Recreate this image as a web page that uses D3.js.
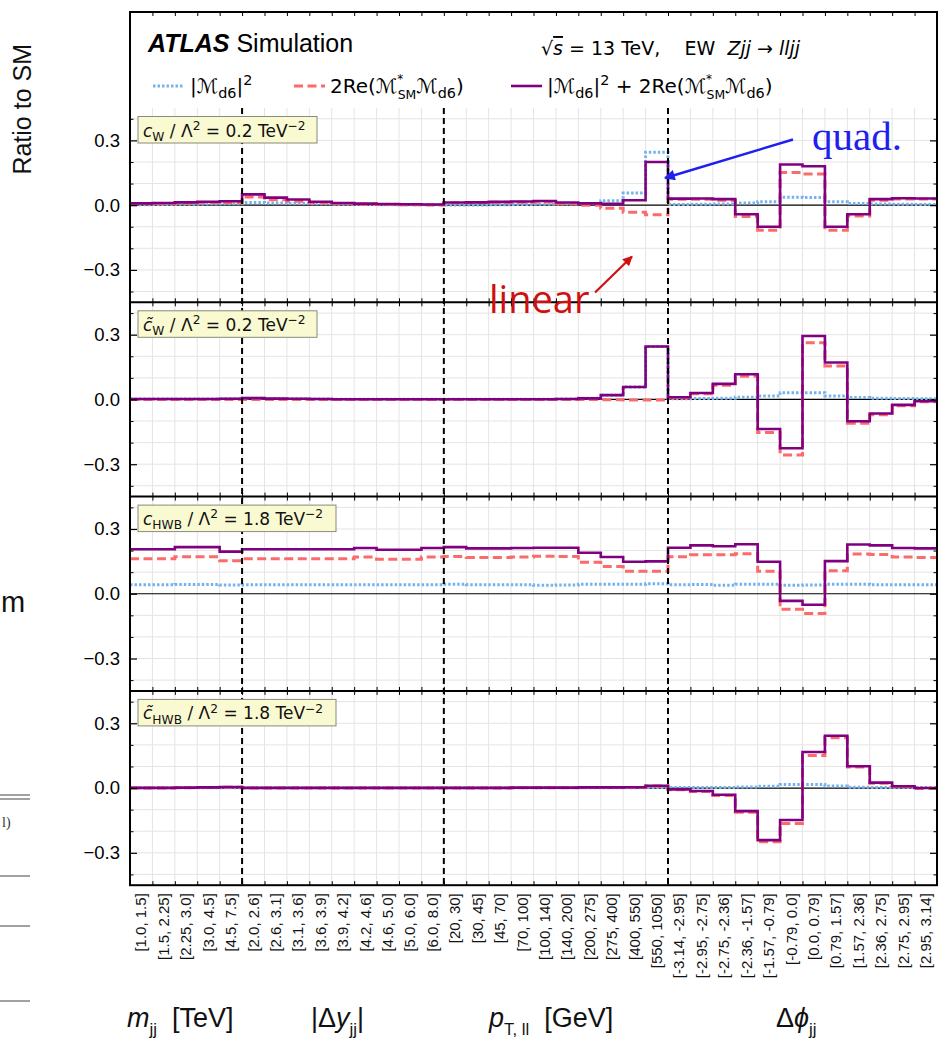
<!DOCTYPE html>
<html><head><meta charset="utf-8">
<script src="https://cdn.jsdelivr.net/npm/d3@7"></script>
<style>body{margin:0;background:#fff}svg{display:block}</style>
</head><body>
<svg id="c" width="941" height="1038"></svg>
<script>
// ---------------- DATA ----------------
const binLabels = [
  "[1.0, 1.5]","[1.5, 2.25]","[2.25, 3.0]","[3.0, 4.5]","[4.5, 7.5]",
  "[2.0, 2.6]","[2.6, 3.1]","[3.1, 3.6]","[3.6, 3.9]","[3.9, 4.2]","[4.2, 4.6]","[4.6, 5.0]","[5.0, 6.0]","[6.0, 8.0]",
  "[20, 30]","[30, 45]","[45, 70]","[70, 100]","[100, 140]","[140, 200]","[200, 275]","[275, 400]","[400, 550]","[550, 1050]",
  "[-3.14, -2.95]","[-2.95, -2.75]","[-2.75, -2.36]","[-2.36, -1.57]","[-1.57, -0.79]","[-0.79, 0.0]","[0.0, 0.79]","[0.79, 1.57]","[1.57, 2.36]","[2.36, 2.75]","[2.75, 2.95]","[2.95, 3.14]"
];
const groupBoundaries = [5, 14, 24];
const yTicksMajor = [-0.3, 0.0, 0.3];
const yTicksMinor = [-0.4, -0.2, -0.1, 0.1, 0.2, 0.4];

// panel 1: c_W
const cW_quad = [0.002,0.003,0.004,0.005,0.006, 0.012,0.010,0.008,0.006,0.004,0.003,0.002,0.002,0.002,
  0.001,0.001,0.002,0.003,0.004,0.005,0.008,0.020,0.056,0.245,
  0.003,0.004,0.005,0.010,0.016,0.037,0.036,0.016,0.008,0.005,0.004,0.003];
const cW_lin = [0.006,0.007,0.009,0.011,0.012, 0.038,0.025,0.018,0.010,0.006,0.004,0.003,0.002,0.001,
  0.011,0.012,0.013,0.014,0.015,0.007,0.000,-0.014,-0.033,-0.045,
  0.027,0.027,0.023,-0.052,-0.116,0.151,0.144,-0.116,-0.050,0.023,0.028,0.028];
const cW_tot = [0.008,0.010,0.013,0.016,0.018, 0.050,0.035,0.026,0.016,0.010,0.007,0.005,0.004,0.003,
  0.012,0.013,0.015,0.017,0.019,0.012,0.008,0.006,0.023,0.200,
  0.030,0.031,0.028,-0.042,-0.100,0.188,0.180,-0.100,-0.042,0.028,0.032,0.031];

// panel 2: c~_W
const cWt_quad = [0.002,0.002,0.002,0.002,0.003, 0.005,0.004,0.003,0.002,0.001,0.001,0.001,0.001,0.001,
  0.001,0.001,0.001,0.001,0.001,0.002,0.005,0.020,0.058,0.245,
  0.003,0.004,0.006,0.010,0.016,0.031,0.031,0.016,0.009,0.006,0.004,0.003];
const cWt_lin = [0.000,0.000,0.000,0.000,0.000, 0.000,0.000,0.000,0.000,0.000,0.000,0.000,0.000,0.000,
  0.000,0.000,0.000,0.000,0.000,0.000,0.000,-0.001,-0.002,-0.003,
  0.007,0.026,0.066,0.107,-0.153,-0.257,0.263,0.155,-0.110,-0.071,-0.029,-0.011];
const cWt_tot = [0.002,0.002,0.002,0.002,0.003, 0.006,0.004,0.003,0.002,0.001,0.001,0.001,0.001,0.001,
  0.001,0.001,0.001,0.001,0.001,0.002,0.005,0.020,0.058,0.245,
  0.010,0.030,0.072,0.117,-0.137,-0.226,0.294,0.171,-0.101,-0.065,-0.025,-0.008];

// panel 3: c_HWB
const cHWB_quad = [0.042,0.042,0.043,0.043,0.041, 0.042,0.042,0.042,0.042,0.042,0.042,0.042,0.042,0.042,
  0.044,0.042,0.042,0.042,0.039,0.041,0.044,0.044,0.044,0.046,
  0.042,0.043,0.039,0.044,0.044,0.039,0.041,0.044,0.044,0.042,0.042,0.042];
const cHWB_lin = [0.162,0.162,0.171,0.171,0.153, 0.162,0.162,0.162,0.162,0.162,0.170,0.160,0.160,0.170,
  0.172,0.168,0.168,0.170,0.174,0.172,0.146,0.126,0.104,0.104,
  0.171,0.181,0.181,0.185,0.104,-0.072,-0.092,0.107,0.184,0.182,0.170,0.168];
const cHWB_tot = [0.206,0.206,0.216,0.216,0.195, 0.206,0.206,0.206,0.206,0.206,0.212,0.204,0.204,0.212,
  0.216,0.210,0.210,0.212,0.213,0.213,0.190,0.170,0.148,0.150,
  0.213,0.224,0.220,0.229,0.148,-0.033,-0.051,0.151,0.228,0.224,0.212,0.210];

// panel 4: c~_HWB
const cHWBt_quad = [0.001,0.001,0.001,0.001,0.001, 0.001,0.001,0.001,0.001,0.001,0.001,0.001,0.001,0.001,
  0.001,0.001,0.001,0.001,0.001,0.001,0.001,0.001,0.001,0.002,
  0.002,0.002,0.003,0.005,0.008,0.016,0.016,0.009,0.004,0.003,0.002,0.002];
const cHWBt_lin = [0.000,0.000,0.001,0.002,0.004, 0.000,0.000,0.000,0.000,0.000,0.000,0.000,0.000,0.000,
  0.000,0.000,0.000,0.001,0.001,0.001,0.002,0.002,0.003,0.009,
  -0.008,-0.016,-0.034,-0.112,-0.249,-0.164,0.151,0.233,0.097,0.022,0.006,-0.002];
const cHWBt_tot = [0.001,0.001,0.002,0.003,0.005, 0.001,0.001,0.001,0.001,0.001,0.001,0.001,0.001,0.001,
  0.001,0.001,0.001,0.002,0.002,0.002,0.003,0.003,0.004,0.011,
  -0.006,-0.014,-0.031,-0.107,-0.241,-0.148,0.167,0.242,0.101,0.025,0.008,0.000];

const panels = [
  {quad: cW_quad, lin: cW_lin, tot: cW_tot,
   label: [{t:"c",i:1},{t:"W",sub:1},{t:" / Λ"},{t:"2",sup:1},{t:" = 0.2 TeV"},{t:"−2",sup:1}]},
  {quad: cWt_quad, lin: cWt_lin, tot: cWt_tot,
   label: [{t:"c\u0303",i:1},{t:"W",sub:1},{t:" / Λ"},{t:"2",sup:1},{t:" = 0.2 TeV"},{t:"−2",sup:1}]},
  {quad: cHWB_quad, lin: cHWB_lin, tot: cHWB_tot,
   label: [{t:"c",i:1},{t:"HWB",sub:1},{t:" / Λ"},{t:"2",sup:1},{t:" = 1.8 TeV"},{t:"−2",sup:1}]},
  {quad: cHWBt_quad, lin: cHWBt_lin, tot: cHWBt_tot,
   label: [{t:"c\u0303",i:1},{t:"HWB",sub:1},{t:" / Λ"},{t:"2",sup:1},{t:" = 1.8 TeV"},{t:"−2",sup:1}]}
];

// ---------------- LAYOUT ----------------
const SANS = "'Liberation Sans', Arial, Helvetica, sans-serif";
const MATH = "'DejaVu Sans', sans-serif";
const COL_Q = "#74b4ee", COL_L = "#fb6b6b", COL_T = "#800080";
const X0 = 130, X1 = 937, FRAME_TOP = 12;
const PH = 194.3, P0 = 108;
const svg = d3.select("#c");
const x = d3.scaleLinear().domain([0, 36]).range([X0, X1]);

function rich(sel, parts, base) {
  let off = 0;
  parts.forEach(p => {
    const ts = sel.append("tspan").text(p.t);
    let target = 0, size = base;
    if (p.sub) { target = base * 0.25; size = base * 0.72; }
    if (p.sup) { target = -base * 0.4; size = base * 0.72; }
    if (p.sub2) { target = base * 0.3; size = base * 0.62; }
    if (p.supS) { target = -base * 0.5; size = base * 0.6; }
    if (p.subS) { target = base * 0.3; size = base * 0.62; }
    ts.attr("dy", target - off).attr("font-size", size);
    if (p.i) ts.attr("font-style", "italic");
    if (p.dx) ts.attr("dx", p.dx);
    off = target;
  });
}

const gridG = svg.append("g");
const dataG = svg.append("g");
const overG = svg.append("g");

const ys = panels.map((p, k) => {
  const top = P0 + k * PH, bot = top + PH;
  return d3.scaleLinear().domain([-0.45, 0.45]).range([bot, top]);
});

// grid
panels.forEach((p, k) => {
  const y = ys[k];
  const [bot, top] = y.range();
  gridG.append("g").selectAll("line").data(d3.range(1, 36)).join("line")
    .attr("x1", d => x(d)).attr("x2", d => x(d)).attr("y1", top).attr("y2", bot)
    .attr("stroke", "#e4e4e4").attr("stroke-width", 1);
  gridG.append("g").selectAll("line").data(d3.range(-4, 5).filter(v => v !== 0).map(v => v / 10)).join("line")
    .attr("x1", X0).attr("x2", X1).attr("y1", d => y(d)).attr("y2", d => y(d))
    .attr("stroke", "#e4e4e4").attr("stroke-width", 1);
  gridG.append("line").attr("x1", X0).attr("x2", X1).attr("y1", y(0)).attr("y2", y(0))
    .attr("stroke", "#000").attr("stroke-width", 1.2);
});

// series
panels.forEach((p, k) => {
  const y = ys[k];
  const line = d3.line().x(d => x(d[0])).y(d => y(d[1])).curve(d3.curveStepAfter);
  const pts = arr => arr.map((v, i) => [i, v]).concat([[36, arr[35]]]);
  dataG.append("path").attr("d", line(pts(p.quad))).attr("fill", "none")
    .attr("stroke", COL_Q).attr("stroke-width", 3).attr("stroke-dasharray", "2.5,2");
  dataG.append("path").attr("d", line(pts(p.lin))).attr("fill", "none")
    .attr("stroke", COL_L).attr("stroke-width", 3).attr("stroke-dasharray", "9,4.5");
  dataG.append("path").attr("d", line(pts(p.tot))).attr("fill", "none")
    .attr("stroke", COL_T).attr("stroke-width", 2.6);
});

// dashed group boundaries
overG.selectAll("line.gb").data(groupBoundaries).join("line").attr("class", "gb")
  .attr("x1", d => x(d)).attr("x2", d => x(d)).attr("y1", P0).attr("y2", P0 + 4 * PH)
  .attr("stroke", "#000").attr("stroke-width", 2).attr("stroke-dasharray", "6,4");

// frame and separators
const bottom = P0 + 4 * PH;
overG.append("rect").attr("x", X0).attr("y", FRAME_TOP).attr("width", X1 - X0).attr("height", bottom - FRAME_TOP)
  .attr("fill", "none").attr("stroke", "#000").attr("stroke-width", 2);
[1, 2, 3].forEach(k => overG.append("line").attr("x1", X0).attr("x2", X1)
  .attr("y1", P0 + k * PH).attr("y2", P0 + k * PH).attr("stroke", "#000").attr("stroke-width", 2));

// x ticks (inward) on every horizontal border
const tickVals = d3.range(1, 36);
[FRAME_TOP, P0 + PH, P0 + 2 * PH, P0 + 3 * PH].forEach(yy => {
  overG.append("g").attr("transform", `translate(0,${yy})`)
    .call(d3.axisTop(x).tickValues(tickVals).tickSize(-4).tickFormat(""))
    .call(g => g.select(".domain").remove())
    .call(g => g.selectAll("line").attr("stroke-width", 1));
});
[P0 + PH, P0 + 2 * PH, P0 + 3 * PH, bottom].forEach(yy => {
  overG.append("g").attr("transform", `translate(0,${yy})`)
    .call(d3.axisBottom(x).tickValues(tickVals).tickSize(-4).tickFormat(""))
    .call(g => g.select(".domain").remove())
    .call(g => g.selectAll("line").attr("stroke-width", 1));
});

// y axes
panels.forEach((p, k) => {
  const y = ys[k];
  overG.append("g").attr("transform", `translate(${X0},0)`)
    .call(d3.axisLeft(y).tickValues(yTicksMajor).tickSize(-7).tickPadding(10).tickFormat(d3.format(".1f")))
    .call(g => g.select(".domain").remove())
    .call(g => g.selectAll("text").attr("font-family", SANS).attr("font-size", 18.5).attr("fill", "#000"))
    .call(g => g.selectAll("line").attr("stroke-width", 1.2));
  overG.append("g").attr("transform", `translate(${X0},0)`)
    .call(d3.axisLeft(y).tickValues(yTicksMinor).tickSize(-3.5).tickFormat(""))
    .call(g => g.select(".domain").remove());
  overG.append("g").attr("transform", `translate(${X1},0)`)
    .call(d3.axisRight(y).tickValues(yTicksMajor).tickSize(-7).tickFormat(""))
    .call(g => g.select(".domain").remove())
    .call(g => g.selectAll("line").attr("stroke-width", 1.2));
  overG.append("g").attr("transform", `translate(${X1},0)`)
    .call(d3.axisRight(y).tickValues(yTicksMinor).tickSize(-3.5).tickFormat(""))
    .call(g => g.select(".domain").remove());

  // label box
  const [, top] = y.range();
  const bw = k < 2 ? 179 : 198;
  const lg = overG.append("g");
  lg.append("rect").attr("x", 138).attr("y", top + 8.5).attr("width", bw).attr("height", 26.5)
    .attr("fill", "#fafad2").attr("stroke", "#8a8a7a").attr("stroke-width", 1);
  const t = lg.append("text").attr("x", 143).attr("y", top + 28.5).attr("font-family", MATH)
    .attr("font-size", 17).attr("fill", "#111");
  rich(t, p.label, 17);
});

// x tick labels (rotated)
overG.append("g").selectAll("text").data(binLabels).join("text")
  .attr("transform", (d, i) => `translate(${x(i + 0.5)},${bottom + 8}) rotate(-90)`)
  .attr("text-anchor", "end").attr("dy", "0.35em")
  .attr("font-family", SANS).attr("font-size", 15).attr("fill", "#111").text(d => d);

// group labels
const glab = [
  {x: 127, parts: [{t:"m",i:1},{t:"jj",sub2:1},{t:"  [TeV]"}]},
  {x: 311, parts: [{t:"|Δ"},{t:"y",i:1},{t:"jj",sub2:1},{t:"|"}]},
  {x: 489, parts: [{t:"p",i:1},{t:"T, ll",sub2:1},{t:"  [GeV]"}]},
  {x: 776, parts: [{t:"Δ"},{t:"ϕ",i:1},{t:"jj",sub2:1}]}
];
glab.forEach(g => {
  const t = svg.append("text").attr("x", g.x).attr("y", 1027).attr("font-family", SANS)
    .attr("font-size", 27).attr("fill", "#111").attr("xml:space", "preserve");
  rich(t, g.parts, 27);
});

// y axis title
svg.append("text").attr("transform", "translate(31,44) rotate(-90)").attr("text-anchor", "end")
  .attr("font-family", SANS).attr("font-size", 25).attr("fill", "#111").text("Ratio to SM");

// clipped remnants of neighbouring page content at the left edge
svg.append("text").attr("x", 1).attr("y", 612).attr("font-family", SANS).attr("font-size", 29).attr("fill", "#111").text("m");
const edgeLines = [795, 799, 876, 926, 1001];
svg.append("g").selectAll("line").data(edgeLines).join("line")
  .attr("x1", 0).attr("x2", 30).attr("y1", d => d).attr("y2", d => d).attr("stroke", "#444").attr("stroke-width", 1);
svg.append("text").attr("x", 2).attr("y", 827).attr("font-family", "'Liberation Serif', serif").attr("font-size", 14).attr("fill", "#333").text("l)");

// title
const tt = svg.append("text").attr("x", 148).attr("y", 52).attr("font-family", SANS).attr("font-size", 25).attr("fill", "#000");
tt.append("tspan").attr("font-weight", "bold").attr("font-style", "italic").text("ATLAS");
tt.append("tspan").text(" Simulation");

const t2 = svg.append("text").attr("x", 541).attr("y", 55).attr("font-family", MATH).attr("font-size", 19)
  .attr("fill", "#000").attr("xml:space", "preserve");
t2.append("tspan").text("√");
t2.append("tspan").attr("font-style", "italic").attr("text-decoration", "overline").text("s");
t2.append("tspan").text(" = 13 TeV,    EW  ");
t2.append("tspan").attr("font-style", "italic").text("Zjj");
t2.append("tspan").text(" → ");
t2.append("tspan").attr("font-style", "italic").text("lljj");

// legend
const legY = 86;
const legItems = [
  {x1: 153, x2: 184, col: COL_Q, dash: "2.5,2", tx: 190,
   parts: [{t:"|ℳ"},{t:"d6",sub:1},{t:"|"},{t:"2",sup:1}]},
  {x1: 294, x2: 325, col: COL_L, dash: "9,4.5", tx: 330,
   parts: [{t:"2Re(ℳ"},{t:"*",supS:1},{t:"SM",subS:1,dx:-5.5},{t:"ℳ"},{t:"d6",sub:1},{t:")"}]},
  {x1: 511, x2: 542, col: COL_T, dash: null, tx: 547,
   parts: [{t:"|ℳ"},{t:"d6",sub:1},{t:"|"},{t:"2",sup:1},{t:" + 2Re(ℳ"},{t:"*",supS:1},{t:"SM",subS:1,dx:-5.5},{t:"ℳ"},{t:"d6",sub:1},{t:")"}]}
];
legItems.forEach(l => {
  const ln = svg.append("line").attr("x1", l.x1).attr("x2", l.x2).attr("y1", legY).attr("y2", legY)
    .attr("stroke", l.col).attr("stroke-width", l.dash ? 3 : 2.6);
  if (l.dash) ln.attr("stroke-dasharray", l.dash);
  const t = svg.append("text").attr("x", l.tx).attr("y", 93).attr("font-family", MATH).attr("font-size", 20)
    .attr("fill", "#000").attr("xml:space", "preserve");
  rich(t, l.parts, 20);
});

// annotations
const defs = svg.append("defs");
[["ab", "#1f1fee"], ["ar", "#d01010"]].forEach(([id, c]) => {
  defs.append("marker").attr("id", id).attr("viewBox", "0 0 10 10").attr("refX", 9).attr("refY", 5)
    .attr("markerWidth", 5).attr("markerHeight", 4.5).attr("orient", "auto")
    .append("path").attr("d", "M0,0 L10,5 L0,10 z").attr("fill", c);
});
svg.append("line").attr("x1", 793).attr("y1", 139.5).attr("x2", 665).attr("y2", 178)
  .attr("stroke", "#1f1fee").attr("stroke-width", 2.4).attr("marker-end", "url(#ab)");
svg.append("line").attr("x1", 595).attr("y1", 292.5).attr("x2", 632).attr("y2", 256.5)
  .attr("stroke", "#d01010").attr("stroke-width", 2.2).attr("marker-end", "url(#ar)");
svg.append("text").attr("x", 812).attr("y", 150).attr("font-family", "'Liberation Serif', 'DejaVu Serif', serif")
  .attr("font-size", 41).attr("fill", "#1f1fee").text("quad.");
svg.append("text").attr("x", 489).attr("y", 313).attr("font-family", "'Open Sans', sans-serif")
  .attr("font-size", 38).attr("fill", "#d01010").text("linear");
</script>
</body></html>
